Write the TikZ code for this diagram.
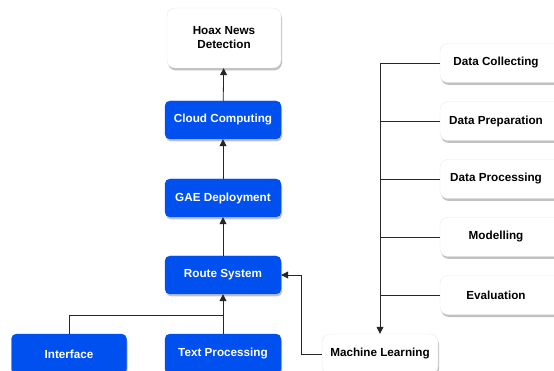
\documentclass[tikz,border=0pt]{standalone}
\usepackage{fontspec}
\setmainfont{Liberation Sans}
\usetikzlibrary{shadows,arrows.meta}
\tikzset{
  x=1pt, y=-1pt,
  basebox/.style={rounded corners=5pt, inner sep=0pt, align=center,
    font=\fontsize{11.7}{14}\selectfont\bfseries,
    drop shadow={shadow xshift=1pt, shadow yshift=-2.5pt, opacity=0.4, fill=black!60}},
  bluebox/.style={basebox, fill=blueA, draw=blueA, text=white},
  whitebox/.style={basebox, fill=white, draw=black!8, text=black, rounded corners=8pt},
  link/.style={draw=black!85, line width=0.8pt},
  arr/.style={link, -{Triangle[length=7pt,width=7pt]}}
}
\definecolor{blueA}{HTML}{0050EF}
\begin{document}
\begin{tikzpicture}
\clip (0,0) rectangle (554,371);
\fill[white] (0,0) rectangle (554,371);

% left stack
\node[whitebox, minimum width=114pt, minimum height=60pt] (hoax) at (224,38) {Hoax News\\Detection};
\node[bluebox, minimum width=116pt, minimum height=38pt] (cloud) at (223,120) {Cloud Computing};
\node[bluebox, minimum width=116pt, minimum height=38pt] (gae) at (223,198) {GAE Deployment};
\node[bluebox, minimum width=116pt, minimum height=38pt] (route) at (223,275) {Route System};
\node[bluebox, minimum width=115pt, minimum height=40pt] (iface) at (69,354) {Interface};
\node[bluebox, minimum width=116pt, minimum height=40pt] (text) at (223,354) {Text Processing};
\node[whitebox, minimum width=116pt, minimum height=40pt] (ml) at (380,354) {Machine Learning};

% right column
\node[whitebox, minimum width=124pt, minimum height=39pt] (dc) at (502,63) {\hspace*{-12pt}Data Collecting};
\node[whitebox, minimum width=124pt, minimum height=39pt] (dp) at (502,121) {\hspace*{-12pt}Data Preparation};
\node[whitebox, minimum width=124pt, minimum height=39pt] (dpr) at (502,179) {\hspace*{-12pt}Data Processing};
\node[whitebox, minimum width=124pt, minimum height=39pt] (mod) at (502,237) {\hspace*{-12pt}Modelling};
\node[whitebox, minimum width=124pt, minimum height=39pt] (ev) at (502,295) {\hspace*{-12pt}Evaluation};

% trunk of the machine learning pipeline
\coordinate (top) at (380,63);
\draw[arr] (top) -- (ml.north);
\foreach \n in {dc,dp,dpr,mod,ev}
  \draw[link] (\n.west) -- (380,0 |- \n.west);

% upward flow
\draw[arr] (route) -- (gae);
\draw[arr] (gae) -- (cloud);
\draw[arr] (cloud) -- (hoax);
\draw[arr] (text) -- (route);
\draw[link] (iface.north) |- (223,315);
\draw[arr] (ml.west) -| (301,275) -- (route.east);
\end{tikzpicture}
\end{document}
